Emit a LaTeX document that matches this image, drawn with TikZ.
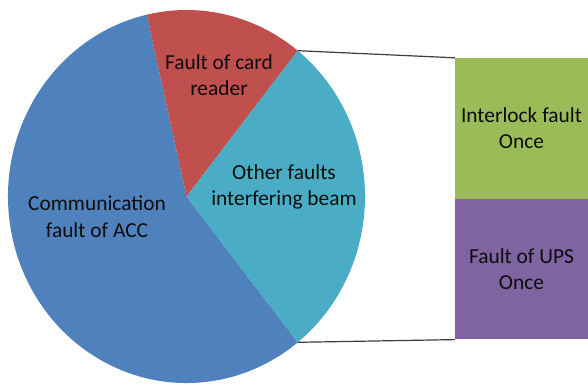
\documentclass[tikz,border=0pt]{standalone}
\usepackage{fontspec}
\setmainfont{Carlito}
\usepackage{tikz}
\usetikzlibrary{positioning, calc}

\definecolor{accblue}{RGB}{79,129,189}
\definecolor{cardred}{RGB}{192,80,77}
\definecolor{beamcyan}{RGB}{75,172,198}
\definecolor{lockgreen}{RGB}{155,187,89}
\definecolor{upspurple}{RGB}{128,100,162}
\definecolor{linkgray}{RGB}{60,60,60}
\definecolor{labelink}{RGB}{13,13,13}

\tikzset{
    label text/.style={align=center, text=labelink, font=\fontsize{21.4}{26.7}\selectfont},
    sub box/.style={label text, minimum width=133pt, minimum height=140.5pt, inner sep=0pt},
    link/.style={draw=linkgray, line width=1.2pt}
}

\begin{document}
\begin{tikzpicture}[x=1pt, y=1pt]
    \useasboundingbox (0,0) rectangle (588,384);
    \clip (0,0) rectangle (588,384);

    \coordinate (o) at (186.5,187.5);
    \coordinate (rc) at ($(o)+(51.43:178.5 and 186.5)$);
    \coordinate (cb) at ($(o)+(-51.43:178.5 and 186.5)$);

    \fill[accblue] (o) -- ++(102.86:178.5 and 186.5)
        arc[start angle=102.86, end angle=308.57, x radius=178.5, y radius=186.5] -- cycle;
    \fill[cardred] (o) -- ++(51.43:178.5 and 186.5)
        arc[start angle=51.43, end angle=102.86, x radius=178.5, y radius=186.5] -- cycle;
    \fill[beamcyan] (o) -- ++(-51.43:178.5 and 186.5)
        arc[start angle=-51.43, end angle=51.43, x radius=178.5, y radius=186.5] -- cycle;

    \node[label text] (card) at (219,309) {Fault of card\\reader};
    \node[label text] (other) at (284,197) {Other faults\\interfering beam};
    \node[label text] (comm) at (97,167) {Communication\\fault of ACC};

    \node[sub box, fill=lockgreen] (inter) at (521.5,255.75) {Interlock fault\\Once};
    \node[sub box, fill=upspurple, below=0pt of inter] (ups) {Fault of UPS\\Once};

    \draw[link]
        (rc) -- (inter.north west)
        (cb) -- (ups.south west)
        ;
\end{tikzpicture}
\end{document}
